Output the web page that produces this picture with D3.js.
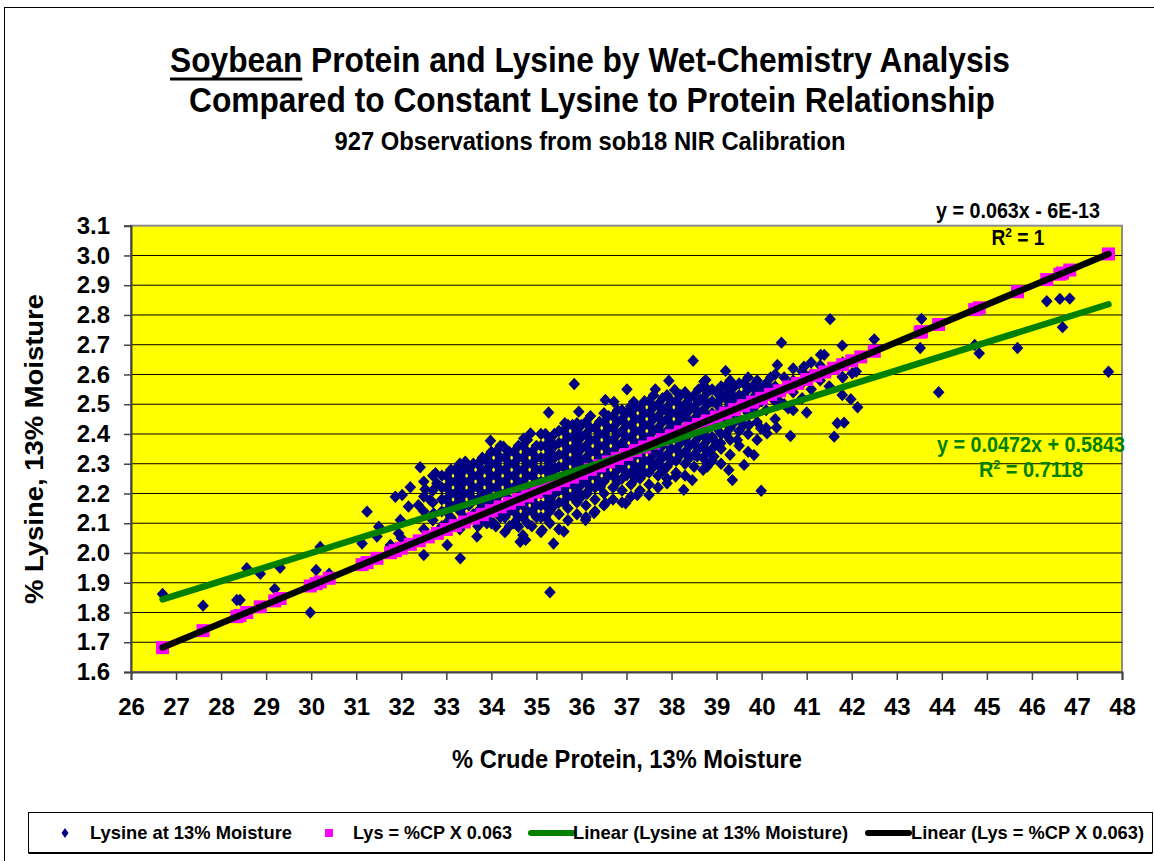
<!DOCTYPE html>
<html><head><meta charset="utf-8">
<script src="https://cdn.jsdelivr.net/npm/d3@7"></script>
<style>body{margin:0;background:#fff}svg{display:block}</style>
</head><body>
<svg id="c" width="1154" height="861"></svg>
<script>
// ---------- DATA ----------
const xTicks = [26,27,28,29,30,31,32,33,34,35,36,37,38,39,40,41,42,43,44,45,46,47,48];
const yTicks = [1.6,1.7,1.8,1.9,2.0,2.1,2.2,2.3,2.4,2.5,2.6,2.7,2.8,2.9,3.0,3.1];

// Lysine at 13% moisture: scattered single observations [CP, Lys]
const lysineSingles = [
 [26.70,1.862],[27.60,1.823],[28.35,1.842],[28.42,1.842],[28.57,1.949],[28.87,1.930],
 [29.19,1.879],[29.31,1.950],[29.98,1.800],[30.11,1.943],[30.20,2.020],[30.40,1.930],
 [31.13,2.032],[31.24,2.139],[31.46,2.055],[31.50,2.088],[31.76,2.027],[31.87,2.189],
 [31.94,2.066],[31.98,2.111],[32.00,2.050],[32.02,2.195],[32.16,2.156],[32.20,2.221],
 [32.38,2.161],[32.42,2.288],[32.50,1.993],[32.53,2.214],[32.64,2.178],[32.72,2.133],
 [32.76,2.268],[32.79,2.234],[33.02,2.027],[33.20,2.279],[33.31,1.982],[33.42,2.307],
 [33.68,2.055],[33.87,2.313],[33.90,2.100],[33.98,2.377],[34.05,2.100],[34.27,2.357],
 [34.60,2.088],[34.64,2.038],[34.72,2.385],[34.76,2.044],[34.87,2.402],[35.13,2.077],
 [35.27,2.472],[35.30,1.868],[35.38,2.032],[35.61,2.072],[35.63,2.436],[35.84,2.568],
 [35.90,2.436],[35.94,2.475],[36.09,2.111],[36.13,2.200],[36.28,2.134],[36.42,2.223],
 [36.53,2.514],[36.53,2.167],[36.72,2.508],[36.79,2.245],[36.98,2.167],[37.01,2.550],
 [37.01,2.262],[37.09,2.492],[37.16,2.508],[37.24,2.195],[37.31,2.268],[37.50,2.195],
 [37.64,2.550],[37.68,2.301],[37.83,2.279],[37.87,2.480],[37.90,2.234],[37.94,2.579],
 [38.07,2.548],[38.09,2.257],[38.20,2.475],[38.27,2.212],[38.42,2.492],[38.46,2.245],
 [38.48,2.646],[38.57,2.324],[38.64,2.514],[38.72,2.576],[38.76,2.581],[38.79,2.290],
 [38.79,2.301],[38.80,2.550],[38.94,2.324],[39.09,2.537],[39.09,2.369],[39.20,2.612],
 [39.27,2.279],[39.31,2.565],[39.35,2.245],[39.46,2.380],[39.61,2.296],[39.64,2.565],
 [39.72,2.430],[39.83,2.329],[39.90,2.565],[39.98,2.419],[39.99,2.209],[40.12,2.402],
 [40.33,2.422],[40.35,2.632],[40.37,2.514],[40.44,2.707],[40.59,2.486],[40.64,2.393],
 [40.94,2.626],[41.00,2.472],[41.31,2.666],[41.39,2.666],[41.52,2.786],[41.61,2.391],
 [41.68,2.436],[41.79,2.697],[41.79,2.592],[41.79,2.531],[41.83,2.438],[41.98,2.517],
 [42.01,2.604],[42.13,2.490],[42.50,2.718],[43.52,2.689],[43.55,2.787],[43.93,2.540],
 [44.73,2.699],[44.83,2.671],[45.68,2.689],[46.33,2.846],[46.62,2.854],[46.68,2.759],
 [46.84,2.855],[47.70,2.609]
];

// Lysine at 13% moisture: dense core, read column by column [CP, [Lys values]]
const lysineColumns = [
 [32.5,[2.08,2.14,2.19,2.24]],
 [32.7,[2.11,2.17,2.21,2.26]],
 [32.9,[2.09,2.14,2.18,2.22,2.26]],
 [33.0,[2.10,2.14,2.18,2.22,2.26]],
 [33.1,[2.12,2.16,2.20,2.24,2.28]],
 [33.2,[2.10,2.16,2.20,2.24,2.28]],
 [33.3,[2.08,2.14,2.18,2.22,2.26,2.30]],
 [33.4,[2.12,2.16,2.20,2.24,2.28]],
 [33.5,[2.11,2.16,2.20,2.24,2.28]],
 [33.6,[2.13,2.18,2.22,2.26,2.30]],
 [33.7,[2.09,2.14,2.18,2.22,2.26,2.30]],
 [33.8,[2.11,2.16,2.20,2.24,2.28,2.32]],
 [33.9,[2.12,2.16,2.20,2.24,2.28,2.32]],
 [34.0,[2.10,2.14,2.18,2.22,2.26,2.30,2.34]],
 [34.1,[2.09,2.14,2.18,2.22,2.26,2.30,2.34]],
 [34.2,[2.12,2.16,2.20,2.24,2.28,2.32,2.36]],
 [34.3,[2.07,2.12,2.16,2.20,2.24,2.28,2.32]],
 [34.4,[2.09,2.14,2.18,2.22,2.26,2.30,2.34]],
 [34.5,[2.10,2.14,2.18,2.22,2.26,2.30,2.34]],
 [34.6,[2.12,2.16,2.20,2.24,2.28,2.32,2.36]],
 [34.7,[2.06,2.12,2.16,2.20,2.24,2.28,2.32,2.36]],
 [34.8,[2.10,2.14,2.18,2.22,2.26,2.30,2.34,2.38]],
 [34.9,[2.09,2.14,2.18,2.22,2.26,2.30,2.34]],
 [35.0,[2.12,2.16,2.20,2.24,2.28,2.32,2.36]],
 [35.1,[2.07,2.12,2.16,2.20,2.24,2.28,2.32,2.36,2.40]],
 [35.2,[2.12,2.16,2.20,2.24,2.28,2.32,2.36,2.40]],
 [35.3,[2.10,2.14,2.18,2.22,2.26,2.30,2.34,2.38]],
 [35.4,[2.16,2.20,2.24,2.28,2.32,2.36,2.40]],
 [35.5,[2.08,2.13,2.17,2.21,2.25,2.29,2.33,2.37,2.41]],
 [35.6,[2.17,2.21,2.25,2.29,2.33,2.37,2.41]],
 [35.7,[2.11,2.15,2.19,2.23,2.27,2.31,2.35,2.39,2.43]],
 [35.8,[2.19,2.23,2.27,2.31,2.35,2.39,2.43]],
 [35.9,[2.13,2.17,2.21,2.25,2.29,2.33,2.37,2.41]],
 [36.0,[2.19,2.23,2.27,2.31,2.35,2.39,2.43]],
 [36.1,[2.12,2.16,2.20,2.24,2.28,2.32,2.36,2.40,2.44]],
 [36.2,[2.22,2.26,2.30,2.34,2.38,2.42,2.46]],
 [36.3,[2.14,2.18,2.22,2.26,2.30,2.34,2.38,2.42]],
 [36.4,[2.24,2.28,2.32,2.36,2.40,2.44]],
 [36.5,[2.16,2.20,2.24,2.28,2.32,2.36,2.40,2.44,2.47]],
 [36.6,[2.26,2.30,2.34,2.38,2.42,2.46]],
 [36.7,[2.18,2.22,2.26,2.30,2.34,2.38,2.42,2.46]],
 [36.8,[2.24,2.28,2.32,2.36,2.40,2.44,2.48]],
 [36.9,[2.17,2.21,2.25,2.29,2.33,2.37,2.41,2.45,2.48]],
 [37.0,[2.27,2.31,2.35,2.39,2.43,2.47]],
 [37.1,[2.19,2.23,2.27,2.31,2.35,2.39,2.43,2.47]],
 [37.2,[2.25,2.29,2.33,2.37,2.41,2.45,2.49]],
 [37.3,[2.21,2.25,2.29,2.33,2.37,2.41,2.45,2.49]],
 [37.4,[2.27,2.31,2.35,2.39,2.43,2.47,2.51]],
 [37.5,[2.23,2.27,2.31,2.35,2.39,2.43,2.47,2.51]],
 [37.6,[2.29,2.33,2.37,2.41,2.45,2.49,2.53]],
 [37.7,[2.22,2.26,2.30,2.34,2.38,2.42,2.46,2.50]],
 [37.8,[2.28,2.32,2.36,2.40,2.44,2.48,2.52]],
 [37.9,[2.25,2.29,2.33,2.37,2.41,2.45,2.49,2.53]],
 [38.0,[2.31,2.35,2.39,2.43,2.47,2.51]],
 [38.1,[2.27,2.31,2.35,2.39,2.43,2.47,2.51]],
 [38.2,[2.33,2.37,2.41,2.45,2.49,2.53]],
 [38.3,[2.26,2.30,2.34,2.38,2.42,2.46,2.50,2.54]],
 [38.4,[2.32,2.36,2.40,2.44,2.48,2.52]],
 [38.5,[2.29,2.33,2.37,2.41,2.45,2.49,2.53]],
 [38.6,[2.35,2.39,2.43,2.47,2.51,2.55]],
 [38.7,[2.28,2.32,2.36,2.40,2.44,2.48,2.52,2.56]],
 [38.8,[2.34,2.38,2.42,2.46,2.50,2.54]],
 [38.9,[2.31,2.35,2.39,2.43,2.47,2.51,2.55]],
 [39.0,[2.37,2.42,2.46,2.50,2.54]],
 [39.1,[2.30,2.35,2.40,2.44,2.48,2.52,2.56]],
 [39.2,[2.40,2.44,2.48,2.52,2.56]],
 [39.3,[2.33,2.38,2.42,2.46,2.50,2.54,2.58]],
 [39.4,[2.44,2.48,2.52,2.56]],
 [39.5,[2.36,2.41,2.45,2.49,2.53,2.57]],
 [39.6,[2.43,2.49,2.53,2.57]],
 [39.7,[2.34,2.40,2.47,2.51,2.55,2.59]],
 [39.8,[2.48,2.52,2.56]],
 [39.9,[2.38,2.44,2.50,2.54,2.58]],
 [40.0,[2.51,2.55]],
 [40.1,[2.42,2.48,2.53,2.57]],
 [40.2,[2.55,2.59]],
 [40.3,[2.45,2.51,2.56,2.60]],
 [40.5,[2.50,2.55,2.59]],
 [40.7,[2.48,2.54,2.58,2.62]],
 [40.9,[2.52,2.57,2.61]],
 [41.1,[2.55,2.60,2.64]],
 [41.3,[2.58,2.63]],
 [41.5,[2.56,2.61]],
 [41.8,[2.59,2.64]],
 [42.1,[2.61]]
];

// Lys = %CP X 0.063 (magenta squares) [CP, Lys]
const lysConstPoints = [
 [26.7,1.682],[27.6,1.739],[28.35,1.786],[28.42,1.790],[28.57,1.800],[28.87,1.819],
 [29.19,1.839],[29.31,1.847],[29.98,1.889],[30.11,1.897],[30.2,1.903],[30.4,1.915],
 [31.13,1.961],[31.24,1.968],[31.46,1.982],[31.76,2.001],[31.87,2.008],[32.0,2.016],
 [32.2,2.029],[32.4,2.041],[32.6,2.054],[32.8,2.066],[33.0,2.079],[33.2,2.092],
 [33.4,2.104],[33.6,2.117],[33.8,2.129],[34.0,2.142],[34.2,2.155],[34.4,2.167],
 [34.6,2.180],[34.8,2.192],[35.0,2.205],[35.2,2.218],[35.4,2.230],[35.6,2.243],
 [35.8,2.255],[36.0,2.268],[36.2,2.281],[36.4,2.293],[36.6,2.306],[36.8,2.318],
 [37.0,2.331],[37.2,2.344],[37.4,2.356],[37.6,2.369],[37.8,2.381],[38.0,2.394],
 [38.2,2.407],[38.4,2.419],[38.6,2.432],[38.8,2.444],[39.0,2.457],[39.2,2.470],
 [39.4,2.482],[39.6,2.495],[39.8,2.507],[40.0,2.520],[40.2,2.533],[40.4,2.545],
 [40.6,2.558],[40.8,2.570],[41.0,2.583],[41.2,2.596],[41.4,2.608],[41.6,2.621],
 [41.8,2.633],[42.0,2.646],[42.2,2.659],[42.5,2.678],[43.52,2.742],[43.55,2.744],
 [43.93,2.768],[44.73,2.818],[44.83,2.824],[45.68,2.878],[46.33,2.919],[46.62,2.937],
 [46.68,2.941],[46.84,2.951],[47.7,3.005]
];

// Trendlines (endpoints at min / max CP)
const greenTrend = [[26.7,1.844],[47.7,2.836]];
const blackTrend = [[26.7,1.682],[47.7,3.005]];

// ---------- DRAW ----------
const FONT = '"Liberation Sans", Arial, Helvetica, sans-serif';
const svg = d3.select('#c');
const L = 131, R = 1122, T = 225.7, B = 672;
const x = d3.scaleLinear([26,48],[L,R]);
const y = d3.scaleLinear([1.6,3.1],[B,T]);

// outer chart border
svg.append('rect').attr('x',4.5).attr('y',7.5).attr('width',1160).attr('height',860)
  .attr('fill','#fff').attr('stroke','#000').attr('stroke-width',1);

// plot area
svg.append('rect').attr('x',L).attr('y',T).attr('width',R-L).attr('height',B-T)
  .attr('fill','#ffff00').attr('stroke','#8c8c8c').attr('stroke-width',2);

// gridlines
svg.append('g').selectAll('line').data(yTicks.slice(1,-1)).join('line')
  .attr('x1',L).attr('x2',R).attr('y1',d=>y(d)).attr('y2',d=>y(d))
  .attr('stroke','#000').attr('stroke-width',1);

// axes
const yAxis = svg.append('g').attr('transform',`translate(${L},0)`)
  .call(d3.axisLeft(y).tickValues(yTicks).tickSize(7).tickPadding(14).tickFormat(d3.format('.1f')));
const xAxis = svg.append('g').attr('transform',`translate(0,${B})`)
  .call(d3.axisBottom(x).tickValues(xTicks).tickSize(8).tickPadding(18).tickFormat(d3.format('d')));
[yAxis,xAxis].forEach(g=>{
  g.select('.domain').attr('stroke','#444').attr('stroke-width',2);
  g.selectAll('.tick line').attr('stroke','#444').attr('stroke-width',1.5);
  g.selectAll('.tick text').attr('fill','#000').style('font-family',FONT)
   .style('font-weight','bold').style('font-size','24px');
});

// diamonds
const lysinePoints = lysineSingles.concat(
  lysineColumns.flatMap(([cp,vals])=>vals.map(v=>[cp,v])));
const diamond = 'M0,-6.2L5.8,0L0,6.2L-5.8,0Z';
svg.append('g').selectAll('path').data(lysinePoints).join('path')
  .attr('d',diamond).attr('transform',d=>`translate(${x(d[0])},${y(d[1])})`)
  .attr('fill','#000080');

// magenta squares
svg.append('g').selectAll('rect').data(lysConstPoints).join('rect')
  .attr('x',d=>x(d[0])-6.5).attr('y',d=>y(d[1])-6.5).attr('width',13).attr('height',13)
  .attr('fill','#ff00ff');

// trendlines
const line = d3.line().x(d=>x(d[0])).y(d=>y(d[1]));
svg.append('path').attr('d',line(greenTrend)).attr('stroke','#008000').attr('stroke-width',6.5)
  .attr('fill','none').attr('stroke-linecap','round');
svg.append('path').attr('d',line(blackTrend)).attr('stroke','#000').attr('stroke-width',6.5)
  .attr('fill','none').attr('stroke-linecap','round');

// helper for text
function txt(s, px, py, size, opts={}) {
  const t = svg.append('text').attr('x',px).attr('y',py)
    .attr('text-anchor',opts.anchor||'middle')
    .style('font-family',FONT).style('font-weight','bold').style('font-size',size+'px')
    .attr('fill',opts.fill||'#000');
  if (opts.len) t.attr('textLength',opts.len).attr('lengthAdjust','spacingAndGlyphs');
  if (opts.rotate) t.attr('transform',`rotate(-90,${px},${py})`);
  t.text(s);
  return t;
}

// titles
const t1 = txt('Soybean Protein and Lysine by Wet-Chemistry Analysis', 590, 72, 35, {len:840});
txt('Compared to Constant Lysine to Protein Relationship', 592, 112, 35, {len:806});
txt('927 Observations from sob18 NIR Calibration', 590, 150, 25, {len:511});
// underline "Soybean"
{
  const n = t1.node();
  const s0 = n.getStartPositionOfChar(0), s1 = n.getEndPositionOfChar(6);
  svg.append('line').attr('x1',s0.x).attr('x2',s1.x).attr('y1',79).attr('y2',79)
    .attr('stroke','#000').attr('stroke-width',3);
}

// axis titles
txt('% Crude Protein, 13% Moisture', 627, 768, 25, {len:350});
txt('% Lysine, 13% Moisture', 43, 449, 25, {len:310, rotate:true});

// trend equations
function eqR2(val, px, py, size, fill, len) {
  const t = svg.append('text').attr('x',px).attr('y',py).attr('text-anchor','middle')
    .style('font-family',FONT).style('font-weight','bold').style('font-size',size+'px').attr('fill',fill);
  if (len) t.attr('textLength',len).attr('lengthAdjust','spacingAndGlyphs');
  t.append('tspan').text('R');
  t.append('tspan').attr('dy',-8).style('font-size',(size*0.62)+'px').text('2');
  t.append('tspan').attr('dy',8).text(' = '+val);
}
txt('y = 0.063x - 6E-13', 1018, 218, 22, {len:164});
eqR2('1', 1018, 245, 22, '#000', 53);
txt('y = 0.0472x + 0.5843', 1031, 452, 22, {fill:'#008000', len:188});
eqR2('0.7118', 1031, 477, 22, '#008000', 104);

// legend
svg.append('rect').attr('x',28.5).attr('y',812.5).attr('width',1124).attr('height',40)
  .attr('fill','#fff').attr('stroke','#000').attr('stroke-width',1);
svg.append('line').attr('x1',28.5).attr('x2',1152.5).attr('y1',853).attr('y2',853)
  .attr('stroke','#000').attr('stroke-width',2);
const ly = 833;
svg.append('path').attr('d','M0,-5L3.5,0L0,5L-3.5,0Z').attr('transform',`translate(65,${ly})`).attr('fill','#000080');
txt('Lysine at 13% Moisture', 90, ly+6, 19, {anchor:'start', len:202});
svg.append('rect').attr('x',325).attr('y',ly-4).attr('width',8).attr('height',8).attr('fill','#ff00ff');
txt('Lys = %CP X 0.063', 353, ly+6, 19, {anchor:'start', len:159});
svg.append('line').attr('x1',531).attr('x2',573).attr('y1',ly).attr('y2',ly)
  .attr('stroke','#008000').attr('stroke-width',6).attr('stroke-linecap','round');
txt('Linear (Lysine at 13% Moisture)', 573, ly+6, 19, {anchor:'start', len:275});
svg.append('line').attr('x1',868).attr('x2',909).attr('y1',ly).attr('y2',ly)
  .attr('stroke','#000').attr('stroke-width',6).attr('stroke-linecap','round');
txt('Linear (Lys = %CP X 0.063)', 911, ly+6, 19, {anchor:'start', len:233});
</script>
</body></html>
